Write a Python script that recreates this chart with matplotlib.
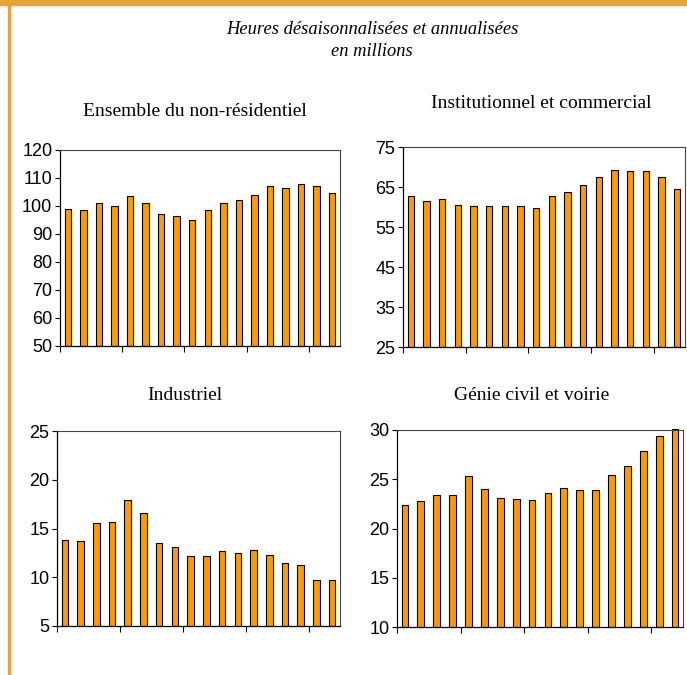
import matplotlib.pyplot as plt
from matplotlib.patches import Rectangle

# heures en millions, 18 périodes
non_residentiel = [99, 98.5, 101, 100, 103.5, 101, 97, 96.5, 95, 98.5, 101, 102, 104, 107, 106.5, 108, 107, 104.5]
instit_commercial = [62.7, 61.6, 62, 60.5, 60.2, 60.2, 60.2, 60.2, 59.8, 62.7, 63.7, 65.4, 67.5, 69.2, 68.9, 68.9, 67.5, 64.4]
industriel = [13.8, 13.7, 15.6, 15.7, 17.9, 16.6, 13.5, 13.1, 12.2, 12.2, 12.7, 12.5, 12.8, 12.3, 11.5, 11.3, 9.7, 9.7]
genie_civil = [22.4, 22.8, 23.4, 23.4, 25.3, 24.0, 23.1, 23.0, 22.9, 23.6, 24.1, 23.9, 23.9, 25.4, 26.3, 27.9, 29.4, 30.1]

W, H = 687, 675
fig = plt.figure(figsize=(W / 100, H / 100), dpi=100)

# bandeau orange et filet de gauche
fig.patches.append(Rectangle((0, 1 - 5 / H), 1, 5 / H, transform=fig.transFigure, color='#E8A33A', zorder=0))
fig.patches.append(Rectangle((7.5 / W, 0), 2.5 / W, 1, transform=fig.transFigure, color='#E8A33A', zorder=0))

fig.text(372 / W, 1 - 30 / H, 'Heures désaisonnalisées et annualisées', ha='center', va='center',
         family='Liberation Serif', style='italic', fontsize=13.3)
fig.text(372 / W, 1 - 51 / H, 'en millions', ha='center', va='center',
         family='Liberation Serif', style='italic', fontsize=13.3)

panels = [
    (non_residentiel, 'Ensemble du non-résidentiel', (60, 150, 340, 346), (50, 120, 10), 195, 112),
    (instit_commercial, 'Institutionnel et commercial', (403, 147, 685, 347), (25, 75, 10), 541, 104),
    (industriel, 'Industriel', (57, 431, 340, 626), (5, 25, 5), 185, 396),
    (genie_civil, 'Génie civil et voirie', (397, 430, 683, 627), (10, 30, 5), 532, 396),
]

for values, title, (x0, y0, x1, y1), (lo, hi, step), tx, ty in panels:
    ax = fig.add_axes([x0 / W, 1 - y1 / H, (x1 - x0) / W, (y1 - y0) / H])
    # barres partant du bas de l'axe pour pouvoir dépasser légèrement en haut
    bars = ax.bar(range(len(values)), [v - lo for v in values], bottom=lo, width=0.42,
                  color='#FF9900', edgecolor='black', linewidth=0.8)
    for b in bars:
        b.set_clip_on(False)
    ax.set_xlim(-0.5, len(values) - 0.5)
    ax.set_ylim(lo, hi)
    ax.set_yticks(range(lo, hi + 1, step))
    ax.set_xticks([-0.5, 3.5, 7.5, 11.5, 15.5])
    ax.set_xticklabels([])
    ax.tick_params(axis='x', direction='out', length=4, width=0.8)
    ax.tick_params(axis='y', direction='out', length=3.5, width=0.8, pad=2, labelsize=13)
    for lab in ax.get_yticklabels():
        lab.set_family('Liberation Sans')
    for s in ['left', 'bottom']:
        ax.spines[s].set_linewidth(0.9)
    for s in ['top', 'right']:
        ax.spines[s].set_color('#444444')
        ax.spines[s].set_linewidth(0.8)
    fig.text(tx / W, 1 - ty / H, title, ha='center', va='center', family='Liberation Serif', fontsize=14)

fig.savefig('out.png', dpi=100)
